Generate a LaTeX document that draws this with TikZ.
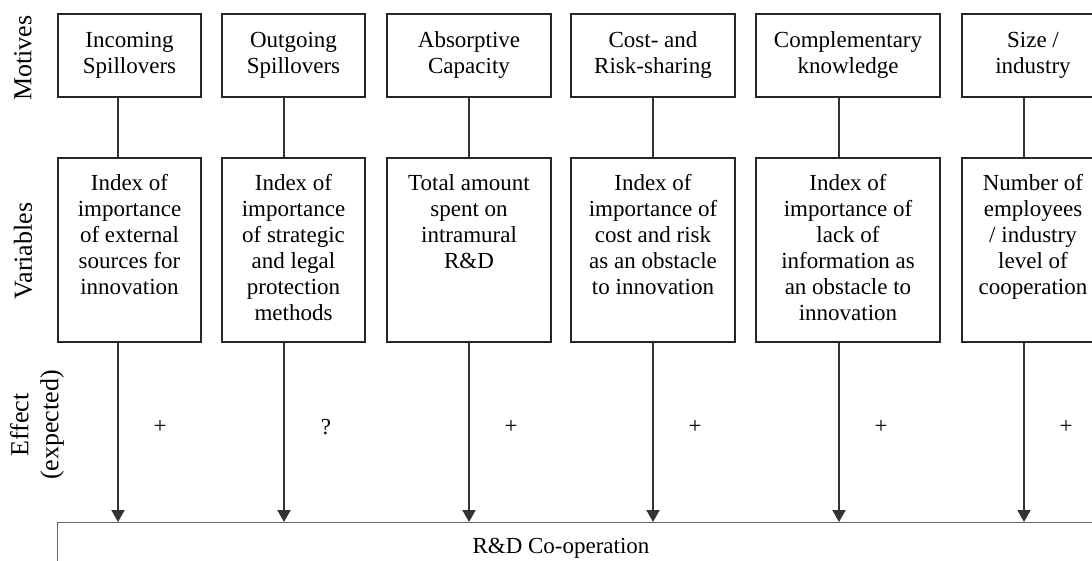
\documentclass[tikz,border=0pt]{standalone}
\usepackage{fontspec}
\setmainfont{Liberation Serif}
\usepackage{tikz}
\usetikzlibrary{positioning}
\usetikzlibrary{arrows.meta}
\usetikzlibrary{shadows}

\tikzset{
  motive/.style={draw=black!85, line width=1pt, fill=white, align=center,
    minimum height=41.5pt, inner sep=0pt, font=\fontsize{11.5}{13}\selectfont,
    drop shadow={shadow xshift=0.7pt, shadow yshift=-0.7pt, opacity=0.4}},
  varbox/.style={draw=black!85, line width=1pt, fill=white, minimum height=92pt,
    inner sep=0pt, drop shadow={shadow xshift=0.7pt, shadow yshift=-0.7pt, opacity=0.4}},
  vartext/.style={align=center, inner sep=0pt, font=\fontsize{11.5}{13}\selectfont},
  link/.style={draw=black!80, line width=1pt},
  effect/.style={link, -{Triangle[width=6.5pt,length=6pt]}},
  sign/.style={font=\fontsize{11.5}{13}\selectfont},
  side/.style={rotate=90, align=center, font=\fontsize{13}{15}\selectfont},
  coopbox/.style={draw=black!60, line width=0.7pt, fill=white},
}

\begin{document}
\begin{tikzpicture}[x=0.5pt,y=-0.5pt]
  \useasboundingbox (0,0) rectangle (1092,561);
  \clip (0,0) rectangle (1092,561);

  % row labels
  \node[side] (motives) at (23,58) {Motives};
  \node[side] (variables) at (23,251) {Variables};
  \node[side] (effect) at (37,425) {Effect\\(expected)};

  % motives
  \node[motive, minimum width=71.5pt] (m1) at (129.5,55.5) {Incoming\\Spillovers};
  \node[motive, minimum width=71.5pt, right=9.5pt of m1] (m2) {Outgoing\\Spillovers};
  \node[motive, minimum width=82pt, right=10pt of m2] (m3) {Absorptive\\Capacity};
  \node[motive, minimum width=82pt, right=9pt of m3] (m4) {Cost- and\\Risk-sharing};
  \node[motive, minimum width=92pt, right=9.5pt of m4] (m5) {Complementary\\knowledge};
  \node[motive, minimum width=71pt, right=10pt of m5] (m6) {Size /\\industry};

  % variables
  \node[varbox, minimum width=71.5pt, below=29.5pt of m1] (v1) {};
  \node[varbox, minimum width=71.5pt, below=29.5pt of m2] (v2) {};
  \node[varbox, minimum width=82pt, below=29.5pt of m3] (v3) {};
  \node[varbox, minimum width=82pt, below=29.5pt of m4] (v4) {};
  \node[varbox, minimum width=92pt, below=29.5pt of m5] (v5) {};
  \node[varbox, minimum width=71pt, below=29.5pt of m6] (v6) {};

  \node[vartext, below=8.5pt of v1.north] (t1) {Index of\\importance\\of external\\sources for\\innovation};
  \node[vartext, below=8.5pt of v2.north] (t2) {Index of\\importance\\of strategic\\and legal\\protection\\methods};
  \node[vartext, below=8.5pt of v3.north] (t3) {Total amount\\spent on\\intramural\\R\&D};
  \node[vartext, below=8.5pt of v4.north] (t4) {Index of\\importance of\\cost and risk\\as an obstacle\\to innovation};
  \node[vartext, below=8.5pt of v5.north] (t5) {Index of\\importance of\\lack of\\information as\\an obstacle to\\innovation};
  \node[vartext, below=8.5pt of v6.north] (t6) {Number of\\employees\\/ industry\\level of\\cooperation};

  % R&D co-operation
  \node[coopbox, anchor=north west, minimum width=560pt, minimum height=40pt] (coop) at (57,522) {};
  \node[vartext] (cooplabel) at (561,548) {R\&D Co-operation};

  % connectors
  \coordinate (c1) at ([xshift=-5.75pt]m1.south);
  \coordinate (c2) at ([xshift=-4.75pt]m2.south);
  \coordinate (c3) at (m3.south);
  \coordinate (c4) at (m4.south);
  \coordinate (c5) at ([xshift=-4.5pt]m5.south);
  \coordinate (c6) at ([xshift=-4.5pt]m6.south);

  \draw[link] (c1) -- (c1 |- v1.north);
  \draw[link] (c2) -- (c2 |- v2.north);
  \draw[link] (c3) -- (c3 |- v3.north);
  \draw[link] (c4) -- (c4 |- v4.north);
  \draw[link] (c5) -- (c5 |- v5.north);
  \draw[link] (c6) -- (c6 |- v6.north);

  \draw[effect] (c1 |- v1.south) -- (c1 |- coop.north) node[sign, pos=0.47, xshift=21pt] (e1) {+};
  \draw[effect] (c2 |- v2.south) -- (c2 |- coop.north) node[sign, pos=0.47, xshift=21pt] (e2) {?};
  \draw[effect] (c3 |- v3.south) -- (c3 |- coop.north) node[sign, pos=0.47, xshift=21pt] (e3) {+};
  \draw[effect] (c4 |- v4.south) -- (c4 |- coop.north) node[sign, pos=0.47, xshift=21pt] (e4) {+};
  \draw[effect] (c5 |- v5.south) -- (c5 |- coop.north) node[sign, pos=0.47, xshift=21pt] (e5) {+};
  \draw[effect] (c6 |- v6.south) -- (c6 |- coop.north) node[sign, pos=0.47, xshift=21pt] (e6) {+};
\end{tikzpicture}
\end{document}
